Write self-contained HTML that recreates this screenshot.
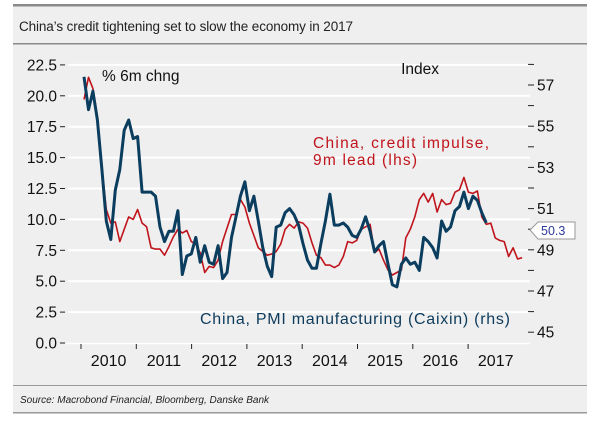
<!DOCTYPE html>
<html><head><meta charset="utf-8"><style>
html,body{margin:0;padding:0;background:#fff;}
svg{display:block;font-family:"Liberation Sans",sans-serif;}
</style></head><body>
<svg width="600" height="423" viewBox="0 0 600 423" id="chart">
<rect x="13" y="6" width="574" height="407" fill="#efefef"/>
<rect x="13" y="4" width="574" height="2.5" fill="#8a8a8a"/>
<text x="19" y="31" font-size="13.5" fill="#222" textLength="334">China’s credit tightening set to slow the economy in 2017</text>
<rect x="13" y="43" width="574" height="1.5" fill="#8a8a8a"/>
<rect x="13" y="385" width="574" height="1" fill="#9a9a9a"/>
<text x="20" y="403" font-size="10" font-style="italic" fill="#222">Source: Macrobond Financial, Bloomberg, Danske Bank</text>
<rect x="13" y="412" width="574" height="1.5" fill="#9a9a9a"/>
<g id="grid"></g><g id="axes"></g><g id="series"></g>
<text x="102" y="81" font-size="15.5" fill="#111">% 6m chng</text>
<text x="439" y="74" font-size="15.5" fill="#111" text-anchor="end">Index</text>
<text x="313" y="148" font-size="15.5" fill="#c0141c" textLength="176">China, credit impulse,</text>
<text x="313" y="165" font-size="15.5" fill="#c0141c" textLength="104">9m lead (lhs)</text>
<text x="200" y="324" font-size="16" fill="#0d3b5c" textLength="310">China, PMI manufacturing (Caixin) (rhs)</text>
<g>
<path d="M530 230 L538 222 L575 222 L575 239 L538 239 Z" fill="#fff" stroke="#999" stroke-width="1"/>
<text x="541" y="235" font-size="12.5" fill="#2a3a9a">50.3</text>
</g>
</svg>
<script>
const leftTicks=[0,2.5,5,7.5,10,12.5,15,17.5,20,22.5];
const leftTickLabels=["0.0","2.5","5.0","7.5","10.0","12.5","15.0","17.5","20.0","22.5"];
const rightTicks=[45,47,49,51,53,55,57];
const rightMinor=[46,48,50,52,54,56,58];
const years=["2010","2011","2012","2013","2014","2015","2016","2017"];
const creditImpulse=[19.7,21.5,20.6,18.3,14.2,10.8,9.7,9.8,8.2,9.2,10.2,10.0,10.8,9.7,9.4,7.7,7.6,7.6,7.1,7.8,8.6,9.2,8.9,9.1,8.2,8.0,7.3,5.7,6.2,6.1,6.7,8.2,9.3,10.4,10.4,11.6,11.0,9.7,8.7,7.7,7.4,7.1,7.2,7.4,8.0,9.2,9.6,
9.3,9.8,9.7,9.3,8.1,7.1,6.9,6.3,6.3,6.1,6.3,7.0,8.2,8.1,8.3,9.2,9.4,9.6,7.3,7.6,6.7,5.9,5.5,5.7,5.9,8.5,9.2,10.2,11.6,12.1,11.4,12.1,10.6,11.6,11.2,11.3,12.2,12.4,13.4,12.2,12.1,12.3,10.2,9.6,9.7,8.5,8.3,8.2,7.0,7.7,6.8,6.9];
const pmi=[57.4,55.8,56.7,55.3,52.9,50.4,49.5,51.9,52.9,54.8,55.3,54.4,54.5,51.8,51.8,51.8,51.6,50.1,49.4,49.9,49.9,50.9,47.8,48.7,48.8,49.6,48.4,49.2,48.4,48.3,49.2,47.6,47.9,49.6,50.6,51.6,52.3,50.9,51.6,50.4,49.1,48.2,47.7,50.1,50.2,50.8,51.0,
50.7,50.2,49.3,48.5,48.1,48.1,49.3,50.4,51.7,50.2,50.2,50.3,50.1,49.7,49.6,50.0,50.6,49.9,48.9,49.2,49.4,48.3,47.3,47.2,48.3,48.6,48.3,48.4,48.0,49.6,49.4,49.1,48.6,50.4,49.9,50.1,50.9,51.1,51.8,51.0,51.6,51.4,50.8,50.3];

const NS="http://www.w3.org/2000/svg";
function yL(v){return 343-v*12.36;}
function yR(p){return 85+(57-p)*20.6;}
function xI(i){return 84+i*4.47;}
function xYear(k){return 81+k*55.3;}
function mk(tag,attrs,parent){const e=document.createElementNS(NS,tag);for(const k in attrs)e.setAttribute(k,attrs[k]);parent.appendChild(e);return e;}
const grid=document.getElementById('grid'),axes=document.getElementById('axes'),series=document.getElementById('series');

leftTicks.forEach((v,i)=>{
  if(v>0){const g=mk('line',{x1:68,x2:530,y1:yL(v),y2:yL(v),stroke:'#fff','stroke-width':2},grid);
  
  }
  const t=mk('line',{x1:60,x2:65,y1:yL(v),y2:yL(v),stroke:'#222','stroke-width':1},axes);
  
  
  const l=mk('text',{x:57,y:yL(v)+5.5,'font-size':15.5,'text-anchor':'end',fill:'#111'},axes);
  l.textContent=leftTickLabels[i];
  
  
});
rightTicks.forEach(v=>{
  const t=mk('line',{x1:528,x2:534,y1:yR(v),y2:yR(v),stroke:'#222','stroke-width':1},axes);
  
  
  const l=mk('text',{x:537,y:yR(v)+5.5,'font-size':15.5,fill:'#111'},axes);
  l.textContent=String(v);
  
  
});
rightMinor.forEach(v=>{
  const t=mk('line',{x1:528,x2:534,y1:yR(v),y2:yR(v),stroke:'#222','stroke-width':1},axes);
  
  
});
const ax=mk('line',{x1:66,x2:530,y1:343.5,y2:343.5,stroke:'#fff','stroke-width':1.5},axes);


years.forEach((y,k)=>{
  const t=mk('line',{x1:xYear(k),x2:xYear(k),y1:344,y2:349,stroke:'#222','stroke-width':1},axes);
  
  
  const l=mk('text',{x:xYear(k)+27.6,y:366,'font-size':16,'text-anchor':'middle',fill:'#111'},axes);
  l.textContent=y;
  
  
});
const red=mk('path',{d:creditImpulse.map((v,i)=>(i?'L':'M')+xI(i).toFixed(1)+' '+yL(v).toFixed(1)).join(' '),fill:'none',stroke:'#c0141c','stroke-width':1.6,'stroke-linejoin':'round'},series);


const blue=mk('path',{d:pmi.map((v,i)=>(i?'L':'M')+xI(i).toFixed(1)+' '+yR(v).toFixed(1)).join(' '),fill:'none',stroke:'#0b3d5e','stroke-width':3,'stroke-linejoin':'round'},series);


</script>
</body></html>
